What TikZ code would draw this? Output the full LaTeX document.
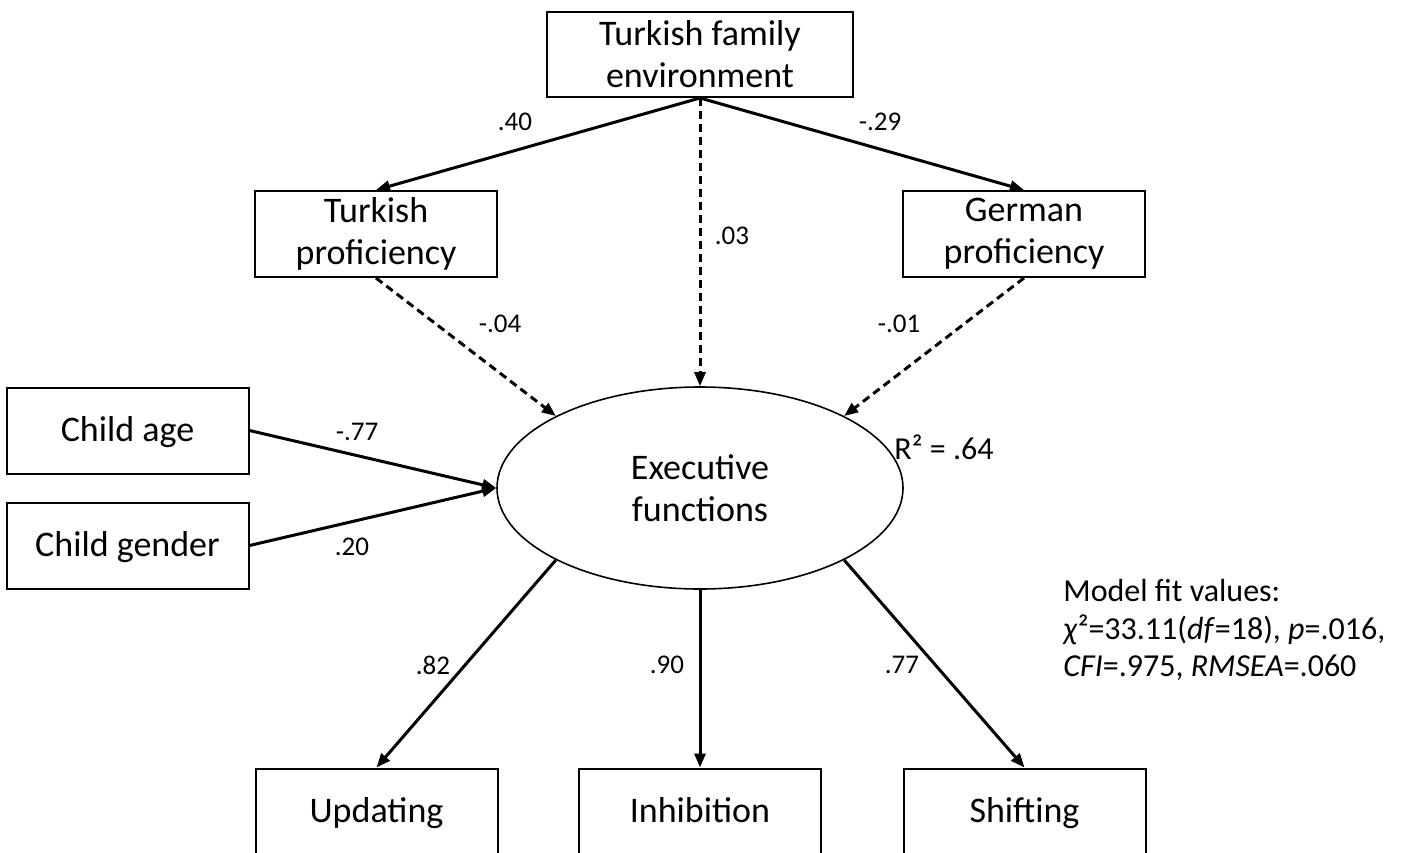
\documentclass[tikz,border=0pt]{standalone}
\usepackage{fontspec}
\setmainfont{Carlito}
\usetikzlibrary{arrows.meta,shapes.geometric}

\begin{document}
\begin{tikzpicture}[x=0.5pt, y=-0.5pt,
    box/.style={draw, line width=1pt, minimum width=121pt, minimum height=43pt, inner sep=0pt, align=center, font=\fontsize{18}{21}\selectfont},
    onebox/.style={box, text height=15pt, text depth=4pt},
    coef/.style={font=\fontsize{13.5}{15}\selectfont},
    link/.style={line width=1.5pt, -{Triangle[length=7pt, width=5.5pt]}},
    weak/.style={link, dash pattern=on 4pt off 2.5pt}]
    \useasboundingbox (0,0) rectangle (1402,852);
    \clip (0,0) rectangle (1402,852);

    \node[box, minimum width=153pt, minimum height=42.5pt] (tfe) at (700,54.5) {Turkish family\\environment};
    \node[box] (tprof) at (376,234) {Turkish\\proficiency};
    \node[box] (gprof) at (1024,234) {German\\proficiency};
    \node[onebox] (age) at (127.5,430.5) {Child age};
    \node[onebox] (gender) at (127.5,545.5) {Child gender};
    \node[draw, ellipse, line width=0.8pt, minimum width=203pt, minimum height=101pt, inner sep=0pt, align=center, font=\fontsize{18}{21}\selectfont] (ef) at (700,488) {Executive\\functions};
    \node[onebox] (upd) at (376.5,811.5) {Updating};
    \node[onebox] (inh) at (700,811.5) {Inhibition};
    \node[onebox] (shf) at (1024.5,811.5) {Shifting};

    \draw[link] (tfe.south) -- (tprof.north);
    \draw[link] (tfe.south) -- (gprof.north);
    \draw[weak] (tfe.south) -- (ef.north);
    \draw[weak] (tprof.south) -- (ef.north west);
    \draw[weak] (gprof.south) -- (ef.north east);
    \draw[link] (age.east) -- (ef.west);
    \draw[link] (gender.east) -- (ef.west);
    \draw[link] (ef.south west) -- (upd.north);
    \draw[link] (ef.south) -- (inh.north);
    \draw[link] (ef.south east) -- (shf.north);

    \node[coef] (c1) at (515,122) {.40};
    \node[coef] (c2) at (880,122) {-.29};
    \node[coef] (c3) at (732,236) {.03};
    \node[coef] (c4) at (500,324) {-.04};
    \node[coef] (c5) at (899,324) {-.01};
    \node[coef] (c6) at (357,432) {-.77};
    \node[coef] (c7) at (352,547) {.20};
    \node[coef] (c8) at (433,665) {.82};
    \node[coef] (c9) at (667,665) {.90};
    \node[coef] (c10) at (902,665) {.77};
    \node[font=\fontsize{16}{18}\selectfont] (rsq) at (944,447) {R² = .64};
    \node[anchor=west, align=left, inner sep=0pt, font=\fontsize{16}{18.75}\selectfont] (fit) at (1063,630)
        {Model fit values:\\\textit{χ}²=33.11(\textit{df}=18), \textit{p}=.016,\\\textit{CFI}=.975, \textit{RMSEA}=.060};
\end{tikzpicture}
\end{document}
